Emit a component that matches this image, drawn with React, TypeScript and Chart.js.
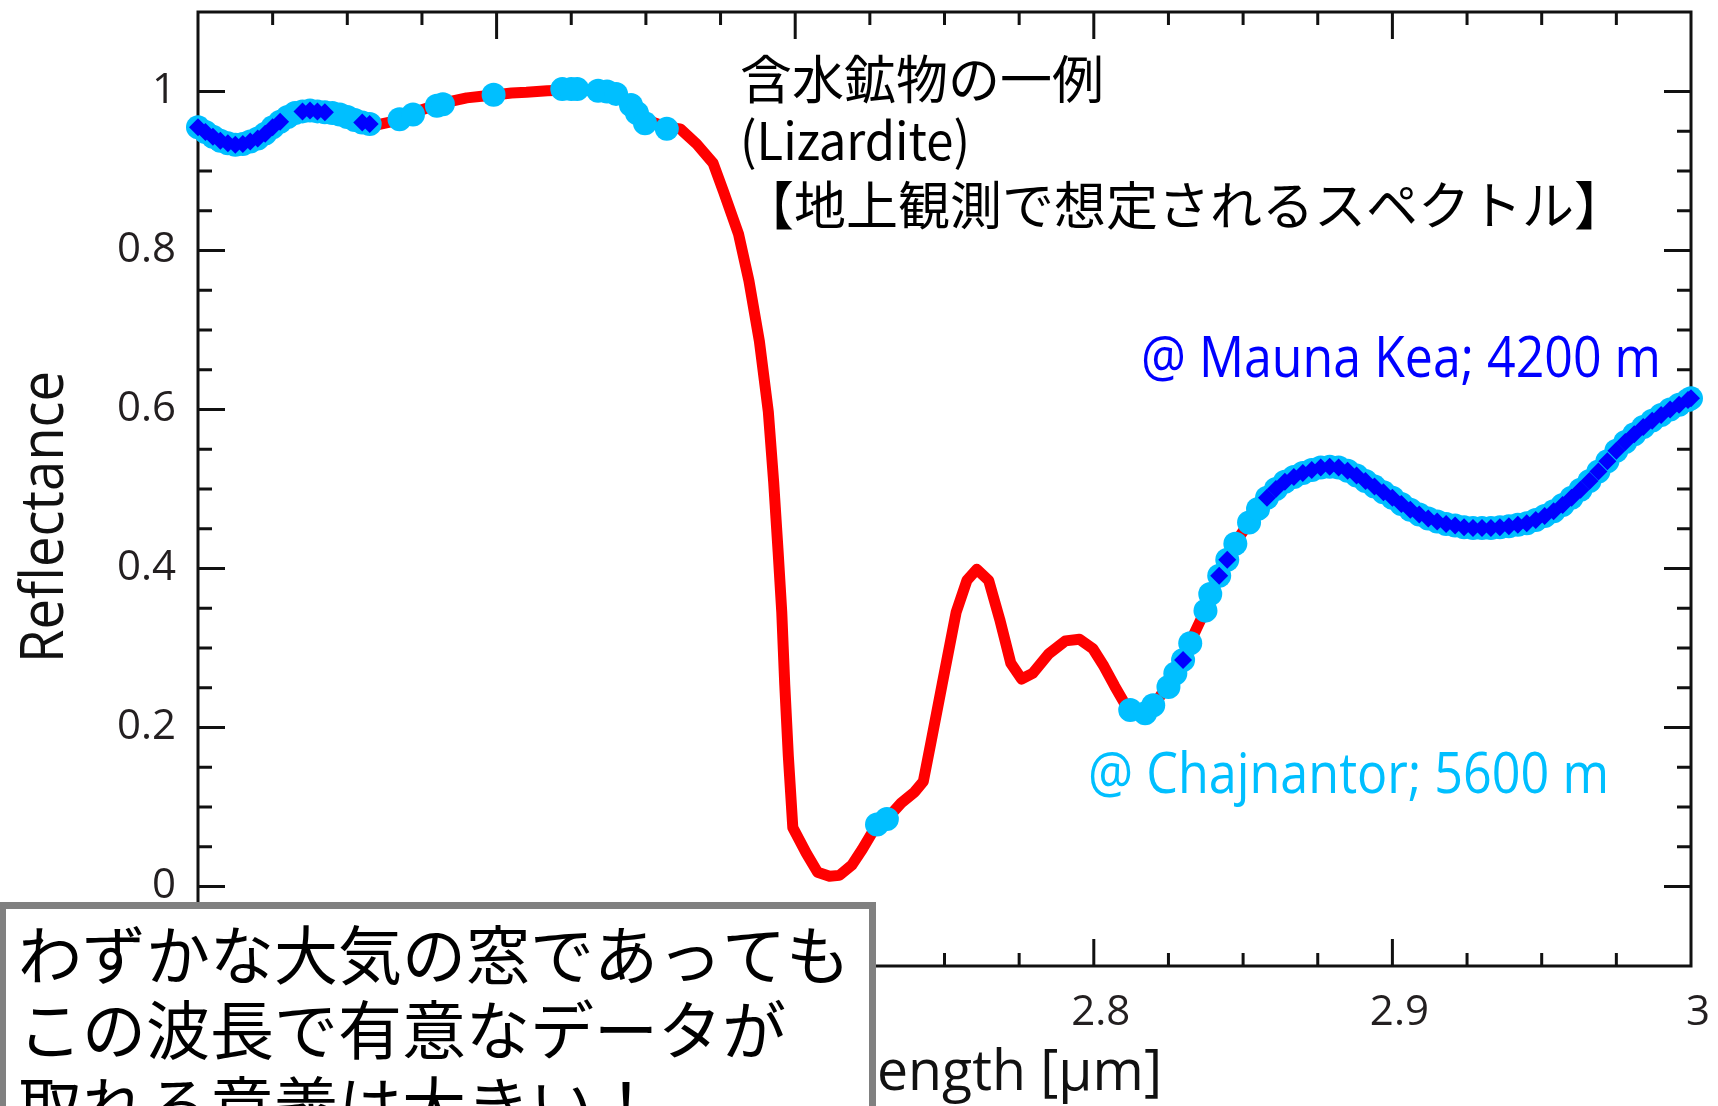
import React, { useEffect, useRef } from 'react';
import { Chart, registerables } from 'chart.js';

Chart.register(...registerables);

const W = 1718;
const H = 1106;

// Red spectrum (Lizardite reflectance)
const spectrumWl = [
  2.500, 2.505, 2.510, 2.515, 2.520, 2.525, 2.530, 2.535, 2.540, 2.545,
  2.550, 2.555, 2.560, 2.565, 2.570, 2.575, 2.580, 2.585, 2.590, 2.595,
  2.600, 2.605, 2.610, 2.617, 2.624, 2.630, 2.636, 2.641, 2.645, 2.6485,
  2.6525, 2.657, 2.6615, 2.667, 2.6725, 2.676, 2.681, 2.6845, 2.688, 2.691,
  2.6928, 2.6943, 2.6955, 2.6965, 2.6977, 2.6992, 2.7037, 2.7075, 2.7115, 2.7148,
  2.719, 2.7225, 2.7274, 2.7307, 2.7355, 2.740, 2.7429, 2.7455, 2.7492, 2.7539,
  2.7575, 2.7608, 2.7648, 2.7685, 2.7722, 2.7758, 2.7795, 2.785, 2.7905, 2.7952,
  2.7997, 2.8034, 2.807, 2.8116, 2.8172, 2.822, 2.827, 2.832, 2.837, 2.842,
  2.847, 2.852, 2.858, 2.864, 2.870, 2.876, 2.882, 2.888, 2.894, 2.900,
  2.906, 2.912, 2.918, 2.924, 2.930, 2.936, 2.942, 2.948, 2.954, 2.960,
  2.966, 2.972, 2.978, 2.984, 2.990, 2.996, 3.000,
];
const spectrumRefl = [
  0.955, 0.944, 0.935, 0.934, 0.941, 0.955, 0.968, 0.975, 0.975, 0.973,
  0.968, 0.961, 0.958, 0.962, 0.968, 0.977, 0.983, 0.988, 0.992, 0.994,
  0.996, 0.998, 0.999, 1.001, 1.002, 1.002, 1.000, 0.994, 0.983, 0.968,
  0.961, 0.955, 0.953, 0.934, 0.910, 0.874, 0.821, 0.762, 0.686, 0.597,
  0.508, 0.420, 0.345, 0.254, 0.164, 0.074, 0.042, 0.018, 0.013, 0.014,
  0.027, 0.047, 0.078, 0.085, 0.105, 0.119, 0.132, 0.182, 0.254, 0.345,
  0.385, 0.399, 0.385, 0.336, 0.281, 0.261, 0.268, 0.293, 0.309, 0.311,
  0.299, 0.277, 0.252, 0.222, 0.219, 0.238, 0.267, 0.305, 0.345, 0.391,
  0.430, 0.458, 0.489, 0.509, 0.520, 0.527, 0.527, 0.517, 0.503, 0.489,
  0.474, 0.463, 0.456, 0.452, 0.451, 0.452, 0.455, 0.461, 0.472, 0.489,
  0.510, 0.535, 0.559, 0.578, 0.593, 0.606, 0.614,
];

// Cyan circles: usable points @ Chajnantor (5600 m)
const chajnantorWl = [
  2.5000, 2.5025, 2.5050, 2.5075, 2.5100, 2.5125, 2.5150, 2.5175, 2.5200, 2.5225,
  2.5250, 2.5275, 2.5300, 2.5325, 2.5350, 2.5375, 2.5400, 2.5425, 2.5450, 2.5475,
  2.5500, 2.5525, 2.5550, 2.5575,
  2.5675, 2.5720, 2.5800, 2.5820, 2.5990, 2.6220, 2.6250, 2.6270, 2.6340, 2.6370,
  2.6400, 2.6450, 2.6470, 2.6497, 2.6570,
  2.7274, 2.7307,
  2.8122, 2.8172, 2.8199, 2.8250, 2.8273, 2.8299, 2.8323, 2.8374, 2.8390, 2.8420,
  2.8447, 2.8474,
  2.852, 2.855, 2.858, 2.861, 2.864, 2.867, 2.870, 2.873, 2.876, 2.879,
  2.882, 2.885, 2.888, 2.891, 2.894, 2.897, 2.900, 2.903, 2.906, 2.909,
  2.912, 2.915, 2.918, 2.921, 2.924, 2.927, 2.930, 2.933, 2.936, 2.939,
  2.942, 2.945, 2.948, 2.951, 2.954, 2.957, 2.960, 2.963, 2.966, 2.969,
  2.972, 2.975, 2.978, 2.981, 2.984, 2.987, 2.990, 2.993, 2.996, 2.999, 3.000,
];
const chajnantorRefl = [
  0.955, 0.949, 0.943, 0.938, 0.935, 0.933, 0.934, 0.937, 0.941, 0.947,
  0.955, 0.962, 0.968, 0.973, 0.975, 0.976, 0.975, 0.974, 0.973, 0.971,
  0.968, 0.964, 0.961, 0.959,
  0.965, 0.971, 0.982, 0.984, 0.996, 1.003, 1.003, 1.003, 1.001, 1.000,
  0.997, 0.983, 0.973, 0.960, 0.953,
  0.078, 0.085,
  0.222, 0.218, 0.228, 0.251, 0.268, 0.285, 0.306, 0.347, 0.368, 0.391,
  0.411, 0.431,
  0.458, 0.475, 0.489, 0.500, 0.509, 0.515, 0.520, 0.524, 0.527, 0.528,
  0.527, 0.523, 0.517, 0.510, 0.503, 0.496, 0.489, 0.481, 0.474, 0.468,
  0.463, 0.459, 0.456, 0.454, 0.452, 0.451, 0.451, 0.451, 0.452, 0.453,
  0.455, 0.457, 0.461, 0.466, 0.472, 0.480, 0.489, 0.499, 0.510, 0.522,
  0.535, 0.548, 0.559, 0.569, 0.578, 0.586, 0.593, 0.600, 0.606, 0.612, 0.614,
];

// Blue diamonds: usable points @ Mauna Kea (4200 m)
const maunaKeaWl = [
  2.5000, 2.5025, 2.5050, 2.5075, 2.5100, 2.5125, 2.5150, 2.5175, 2.5200, 2.5225,
  2.5250, 2.5275,
  2.5350, 2.5375, 2.5400, 2.5425,
  2.5550, 2.5575,
  2.8299, 2.8420, 2.8447,
  2.858, 2.861, 2.864, 2.867, 2.870, 2.873, 2.876, 2.879,
  2.882, 2.885, 2.888, 2.891, 2.894, 2.897, 2.900, 2.903, 2.906, 2.909,
  2.912, 2.915, 2.918, 2.921, 2.924, 2.927, 2.930, 2.933, 2.936, 2.939,
  2.942, 2.945, 2.948, 2.951, 2.954, 2.957, 2.960, 2.963, 2.966, 2.969,
  2.972, 2.975, 2.978, 2.981, 2.984, 2.987, 2.990, 2.993, 2.996, 2.999, 3.000,
];
const maunaKeaRefl = [
  0.955, 0.949, 0.943, 0.938, 0.935, 0.933, 0.934, 0.937, 0.941, 0.947,
  0.955, 0.962,
  0.975, 0.976, 0.975, 0.974,
  0.961, 0.959,
  0.285, 0.391, 0.411,
  0.489, 0.500, 0.509, 0.515, 0.520, 0.524, 0.527, 0.528,
  0.527, 0.523, 0.517, 0.510, 0.503, 0.496, 0.489, 0.481, 0.474, 0.468,
  0.463, 0.459, 0.456, 0.454, 0.452, 0.451, 0.451, 0.451, 0.452, 0.453,
  0.455, 0.457, 0.461, 0.466, 0.472, 0.480, 0.489, 0.499, 0.510, 0.522,
  0.535, 0.548, 0.559, 0.569, 0.578, 0.586, 0.593, 0.600, 0.606, 0.612, 0.614,
];

// Axis tick labels
const xTickLabels = ['2.5', '2.6', '2.7', '2.8', '2.9', '3'];
const yTickLabels = ['0', '0.2', '0.4', '0.6', '0.8', '1'];

const xTitle = 'Wavelength [μm]';
const yTitle = 'Reflectance';
const noteLines = ['含水鉱物の一例', '(Lizardite)', '【地上観測で想定されるスペクトル】'];
const maunaKeaLabel = '@ Mauna Kea; 4200 m';
const chajnantorLabel = '@ Chajnantor; 5600 m';
const boxLines = ['わずかな大気の窓であっても', 'この波長で有意なデータが', '取れる意義は大きい！'];

const RED = '#ff0000';
const CYAN = '#00bfff';
const BLUE = '#0000ff';
const INK = '#231f20';
const LATIN = '"Open Sans", "Noto Sans", sans-serif';
const CJK = '"Noto Sans CJK JP", "Noto Sans", sans-serif';

const isMultiple = (v: number, step: number) => Math.abs(v / step - Math.round(v / step)) < 1e-6;

function fitText(ctx: CanvasRenderingContext2D, text: string, x: number, y: number, font: string,
  color: string, targetWidth: number | null, baseline: CanvasTextBaseline = 'alphabetic') {
  ctx.save();
  ctx.font = font;
  ctx.fillStyle = color;
  ctx.textAlign = 'left';
  ctx.textBaseline = baseline;
  const w = ctx.measureText(text).width;
  const sx = targetWidth ? targetWidth / w : 1;
  ctx.translate(x, y);
  ctx.scale(sx, 1);
  ctx.fillText(text, 0, 0);
  ctx.restore();
}

const framePlugin = {
  id: 'frameTicks',
  beforeDatasetsDraw(chart: any) {
    const { ctx, chartArea: a, scales } = chart;
    const xs = scales.x;
    const ys = scales.y;
    ctx.save();
    ctx.strokeStyle = '#111';
    ctx.lineWidth = 3;
    ctx.strokeRect(a.left, a.top, a.right - a.left, a.bottom - a.top);
    ctx.beginPath();
    for (const t of xs.ticks) {
      const v = t.value;
      const px = xs.getPixelForValue(v);
      if (px <= a.left + 2 || px >= a.right - 2) continue;
      const len = isMultiple(v, 0.1) ? 27 : 13;
      ctx.moveTo(px, a.bottom);
      ctx.lineTo(px, a.bottom - len);
      ctx.moveTo(px, a.top);
      ctx.lineTo(px, a.top + len);
    }
    for (const t of ys.ticks) {
      const v = t.value;
      if (v < -1e-6 || v > 1 + 1e-6) continue;
      const py = ys.getPixelForValue(v);
      const len = isMultiple(v, 0.2) ? 27 : 14;
      ctx.moveTo(a.left, py);
      ctx.lineTo(a.left + len, py);
      ctx.moveTo(a.right, py);
      ctx.lineTo(a.right - len, py);
    }
    ctx.stroke();
    ctx.restore();
  },
  afterDraw(chart: any) {
    const ctx: CanvasRenderingContext2D = chart.ctx;

    // Axis titles
    ctx.save();
    ctx.font = `56px ${LATIN}`;
    const partW = ctx.measureText('ength [μm]').width;
    const sxT = 285 / partW;
    ctx.fillStyle = '#111';
    ctx.textAlign = 'right';
    ctx.textBaseline = 'alphabetic';
    ctx.translate(1162, 1090);
    ctx.scale(sxT, 1);
    ctx.fillText(xTitle, 0, 0);
    ctx.restore();

    ctx.save();
    ctx.font = `60px ${LATIN}`;
    const yw = ctx.measureText(yTitle).width;
    ctx.fillStyle = '#111';
    ctx.textAlign = 'center';
    ctx.textBaseline = 'alphabetic';
    ctx.translate(63, 517);
    ctx.rotate(-Math.PI / 2);
    ctx.scale(292 / yw, 1);
    ctx.fillText(yTitle, 0, 0);
    ctx.restore();

    // Annotation block
    fitText(ctx, noteLines[0], 740, 79, `52px ${CJK}`, '#000', null, 'middle');
    fitText(ctx, noteLines[1], 740, 160, `52px ${CJK}`, '#000', 230, 'alphabetic');
    fitText(ctx, noteLines[2], 742, 205, `52px ${CJK}`, '#000', null, 'middle');

    fitText(ctx, maunaKeaLabel, 1141, 377, `56px ${LATIN}`, BLUE, 520, 'alphabetic');
    fitText(ctx, chajnantorLabel, 1088, 793, `56px ${LATIN}`, CYAN, 521, 'alphabetic');

    // Bottom-left message box
    ctx.save();
    ctx.fillStyle = '#ffffff';
    ctx.fillRect(0, 902, 876, 210);
    ctx.strokeStyle = '#808080';
    ctx.lineWidth = 7;
    ctx.strokeRect(2.5, 905.5, 870, 260);
    ctx.restore();
    fitText(ctx, boxLines[0], 18, 955, `64px ${CJK}`, '#000', null, 'middle');
    fitText(ctx, boxLines[1], 18, 1030, `64px ${CJK}`, '#000', null, 'middle');
    fitText(ctx, boxLines[2], 18, 1106, `64px ${CJK}`, '#000', null, 'middle');
  },
};

export default function App() {
  const ref = useRef<HTMLCanvasElement | null>(null);

  useEffect(() => {
    if (!ref.current) return;
    const toXY = (xs: number[], ys: number[]) => xs.map((x, i) => ({ x, y: ys[i] }));
    const chart = new Chart(ref.current, {
      type: 'line',
      data: {
        datasets: [
          {
            label: 'Mauna Kea',
            data: toXY(maunaKeaWl, maunaKeaRefl),
            showLine: false,
            pointStyle: 'rectRot',
            pointRadius: 9,
            pointBackgroundColor: BLUE,
            pointBorderWidth: 0,
            borderColor: BLUE,
            clip: false,
            order: 0,
          },
          {
            label: 'Chajnantor',
            data: toXY(chajnantorWl, chajnantorRefl),
            showLine: false,
            pointStyle: 'circle',
            pointRadius: 12,
            pointBackgroundColor: CYAN,
            pointBorderWidth: 0,
            borderColor: CYAN,
            clip: false,
            order: 1,
          },
          {
            label: 'Lizardite',
            data: toXY(spectrumWl, spectrumRefl),
            borderColor: RED,
            borderWidth: 11,
            borderCapStyle: 'round',
            borderJoinStyle: 'round',
            tension: 0,
            pointRadius: 0,
            fill: false,
            clip: false,
            order: 2,
          },
        ],
      } as any,
      options: {
        responsive: false,
        devicePixelRatio: 1,
        animation: false,
        events: [],
        layout: { padding: { top: 11, right: 27, left: 0, bottom: 0 } },
        plugins: { legend: { display: false }, tooltip: { enabled: false }, title: { display: false } },
        scales: {
          x: {
            type: 'linear',
            min: 2.5,
            max: 3.0,
            grid: { display: false, drawTicks: false },
            border: { display: false },
            ticks: {
              stepSize: 0.025,
              autoSkip: false,
              maxRotation: 0,
              minRotation: 0,
              padding: 22,
              labelOffset: 7,
              color: INK,
              font: { family: LATIN, size: 42 },
              callback: (v: any) => {
                const n = Number(v);
                if (!isMultiple(n, 0.1)) return '';
                const idx = Math.round((n - 2.5) / 0.1);
                return xTickLabels[idx] ?? '';
              },
            },
            afterFit: (s: any) => {
              s.height = H - 966;
              s.paddingLeft = 0;
              s.paddingRight = 0;
            },
          },
          y: {
            type: 'linear',
            min: -0.1,
            max: 1.1,
            grid: { display: false, drawTicks: false },
            border: { display: false },
            ticks: {
              stepSize: 0.05,
              autoSkip: false,
              padding: 22,
              color: INK,
              font: { family: LATIN, size: 42 },
              callback: (v: any) => {
                const n = Number(v);
                if (n < -1e-6 || n > 1 + 1e-6 || !isMultiple(n, 0.2)) return '';
                return yTickLabels[Math.round(n / 0.2)] ?? '';
              },
            },
            afterFit: (s: any) => {
              s.width = 198;
              s.paddingTop = 0;
              s.paddingBottom = 0;
            },
          },
        },
      } as any,
      plugins: [framePlugin],
    });
    return () => chart.destroy();
  }, []);

  return (
    <div style={{ position: 'fixed', left: 0, top: 0, width: W, height: H, background: '#ffffff', overflow: 'hidden' }}>
      <canvas ref={ref} width={W} height={H} style={{ display: 'block', width: W, height: H }} />
    </div>
  );
}
